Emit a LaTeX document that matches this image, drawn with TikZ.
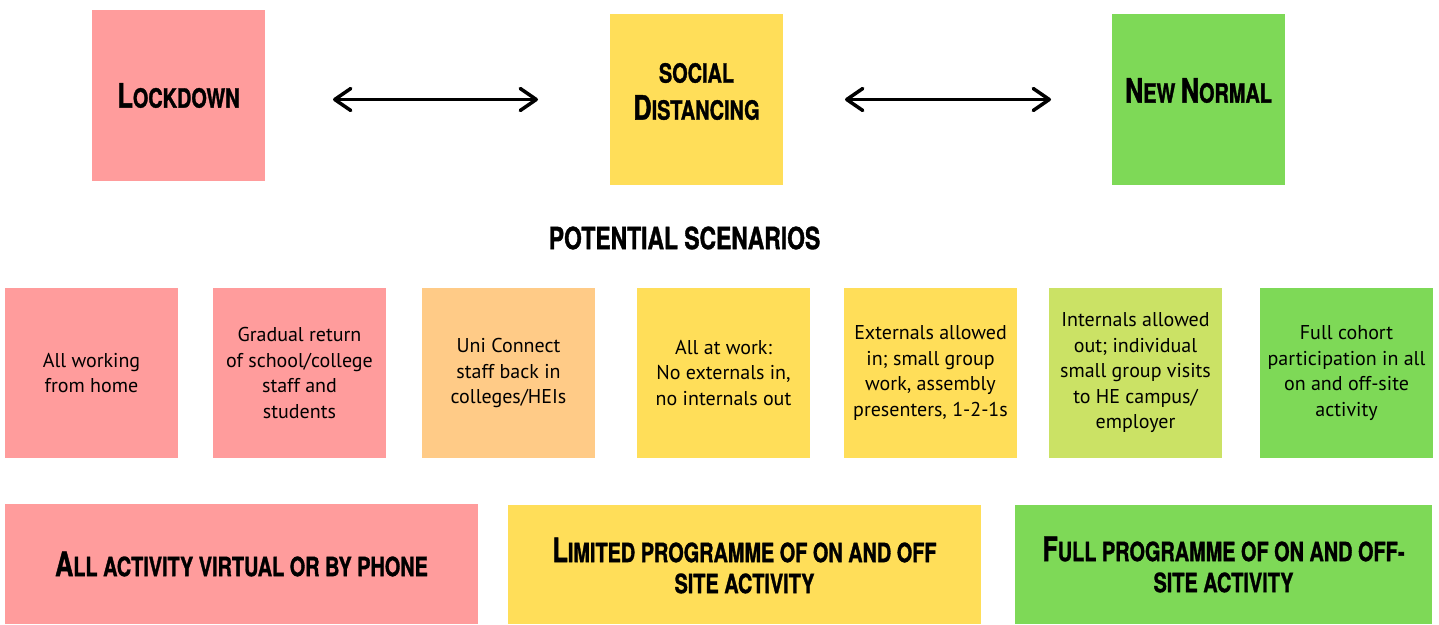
\documentclass[tikz,border=0pt]{standalone}
\usepackage{fontspec}
\setmainfont{PT Sans}
\newfontfamily\headfont[FakeStretch=0.75, BoldFeatures={FakeBold=1.2}]{TeX Gyre Heros}
\usetikzlibrary{arrows.meta}
\definecolor{pinkc}{HTML}{FF9C9C}
\definecolor{yellowc}{HTML}{FFDE59}
\definecolor{orangec}{HTML}{FFCB87}
\definecolor{limec}{HTML}{CBE265}
\definecolor{greenc}{HTML}{7ED957}
\newcommand\BL[1]{\scalebox{1.27}{#1}}
\begin{document}
\begin{tikzpicture}[x=1pt,y=-1pt,
  box/.style={rectangle, inner sep=0pt, outer sep=0pt, draw=none},
  topbox/.style={box, minimum width=173pt, minimum height=171pt},
  midbox/.style={box, minimum width=173pt, minimum height=170pt, align=center,
    font=\fontsize{20}{25.5}\selectfont},
  botbox/.style={box, minimum height=120pt},
  hd/.style={font=\headfont\bfseries\fontsize{26.5}{31}\selectfont, align=center, inner sep=0pt},
  arr/.style={line width=3.5pt,
    {Straight Barb[length=16pt,width=22pt,line cap=round,line join=round]}-{Straight Barb[length=16pt,width=22pt,line cap=round,line join=round]}}
]
\useasboundingbox[fill=white] (0,0) rectangle (1439,624);

% top row
\node[topbox, fill=pinkc] (lock) at (178.5,95.5) {};
\node[topbox, fill=yellowc] (soc) at (696.5,99.5) {};
\node[topbox, fill=greenc] (nn) at (1198.5,99.5) {};
\node[hd] (lockt) at (lock.center) {\BL{L}OCKDOWN};
\node[hd, yshift=8pt, font=\headfont\bfseries\fontsize{26.5}{37}\selectfont] (soct) at (soc.center) {SOCIAL\\\BL{D}ISTANCING};
\node[hd, yshift=9pt] (nnt) at (nn.center) {\BL{N}EW \BL{N}ORMAL};

\draw[arr, shorten <=68pt, shorten >=72pt] (lock.east |- soc.east) -- (soc.west);
\draw[arr, shorten <=62pt, shorten >=61pt] (soc.east) -- (nn.west);

% title
\node[hd, font=\headfont\bfseries\fontsize{30.5}{34}\selectfont] (title) at (684.5,238) {POTENTIAL SCENARIOS};

% middle row
\node[midbox, fill=pinkc] (m1) at (91.5,373) {All working\\from home};
\node[midbox, fill=pinkc] (m2) at (299.5,373) {Gradual return\\of school/college\\staff and\\students};
\node[midbox, fill=orangec] (m3) at (508.5,373) {Uni Connect\\staff back in\\colleges/HEIs};
\node[midbox, fill=yellowc] (m4) at (723.5,373) {All at work:\\No externals in,\\no internals out};
\node[midbox, fill=yellowc] (m5) at (930.5,373) {Externals allowed\\in; small group\\work, assembly\\presenters, 1-2-1s};
\node[midbox, fill=limec] (m6) at (1135.5,373) {Internals allowed\\out; individual\\small group visits\\to HE campus/\\employer};
\node[midbox, fill=greenc] (m7) at (1346.5,373) {Full cohort\\participation in all\\on and off-site\\activity};

% bottom row
\node[botbox, fill=pinkc, minimum width=473pt] (b1) at (241.5,564) {};
\node[botbox, fill=yellowc, minimum width=473pt, minimum height=119pt] (b2) at (744.5,564.5) {};
\node[botbox, fill=greenc, minimum width=417pt, minimum height=119pt] (b3) at (1223.5,564.5) {};
\node[hd] (b1t) at (b1.center) {\BL{A}LL ACTIVITY VIRTUAL OR BY PHONE};
\node[hd, yshift=-1pt] (b2t) at (b2.center) {\BL{L}IMITED PROGRAMME OF ON AND OFF\\SITE ACTIVITY};
\node[hd] (b3t) at (b3.center) {\BL{F}ULL PROGRAMME OF ON AND OFF-\\SITE ACTIVITY};
\end{tikzpicture}
\end{document}
